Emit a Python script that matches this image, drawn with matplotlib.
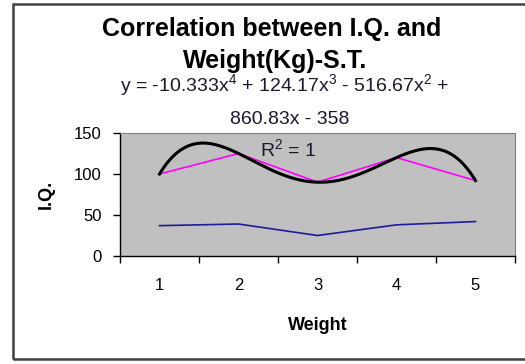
import matplotlib.pyplot as plt
import numpy as np
from matplotlib.patches import Rectangle

# data
weight = [1, 2, 3, 4, 5]
iq = [100, 125, 90, 120, 92]
kg = [37, 39, 25, 38, 42]
y_ticks = [0, 50, 100, 150]

plt.rcParams['font.family'] = ['Liberation Sans', 'DejaVu Sans']
plt.rcParams['mathtext.fontset'] = 'custom'
plt.rcParams['mathtext.rm'] = 'Liberation Sans'

W, H = 525, 364
fig = plt.figure(figsize=(W / 100, H / 100), dpi=100)

# outer chart border (runs past the right edge in the reference)
fig.patches.append(Rectangle((13 / W, 1 - 359 / H), 1.2, (359 - 4) / H,
                             transform=fig.transFigure, fill=False,
                             edgecolor='#404040', linewidth=1.8))

left, right, top, bottom = 120, 515, 133, 256
ax = fig.add_axes([left / W, 1 - bottom / H, (right - left) / W, (bottom - top) / H])
ax.set_facecolor('#C0C0C0')

ax.plot(weight, iq, color='#FF00FF', linewidth=1.2, zorder=2)
ax.plot(weight, kg, color='#1C1C9C', linewidth=1.2, zorder=2)

# 4th order polynomial trendline, like Excel's
coef = np.polyfit(weight, iq, 4)
xs = np.linspace(weight[0], weight[-1], 200)
ax.plot(xs, np.polyval(coef, xs), color='black', linewidth=2.2, zorder=3)

ax.set_xlim(0.5, 5.5)
ax.set_ylim(0, 150)
ax.set_yticks(y_ticks)
ax.set_xticks(weight)
ax.set_xticks([w - 0.5 for w in weight] + [weight[-1] + 0.5], minor=True)
ax.tick_params(axis='x', which='major', length=0, pad=16, labelsize=12)
ax.tick_params(axis='x', which='minor', length=5, direction='out', width=1)
ax.tick_params(axis='y', length=5, direction='out', width=1, pad=8, labelsize=12)

for side in ['top', 'right']:
    ax.spines[side].set_color('#808080')
    ax.spines[side].set_linewidth(0.8)
for side in ['left', 'bottom']:
    ax.spines[side].set_color('black')
    ax.spines[side].set_linewidth(1.0)

ax.set_xlabel('Weight', fontsize=13, fontweight='bold', labelpad=17)
ax.set_ylabel('I.Q.', fontsize=13, fontweight='bold', labelpad=14)

fig.text(272 / W, 1 - 29 / H, 'Correlation between I.Q. and', ha='center', va='center',
         fontsize=18, fontweight='bold')
fig.text(275 / W, 1 - 61 / H, 'Weight(Kg)-S.T.', ha='center', va='center',
         fontsize=18, fontweight='bold')
fig.text(285 / W, 1 - 86 / H, r'y = -10.333x$^4$ + 124.17x$^3$ - 516.67x$^2$ +',
         ha='center', va='center', fontsize=14, color='#1a1a2e')
fig.text(290 / W, 1 - 120 / H, '860.83x - 358', ha='center', va='center',
         fontsize=14, color='#1a1a2e')
fig.text(288 / W, 1 - 150 / H, r'R$^2$ = 1', ha='center', va='center',
         fontsize=14, color='#1a1a2e')

fig.savefig('out.png', dpi=100)
